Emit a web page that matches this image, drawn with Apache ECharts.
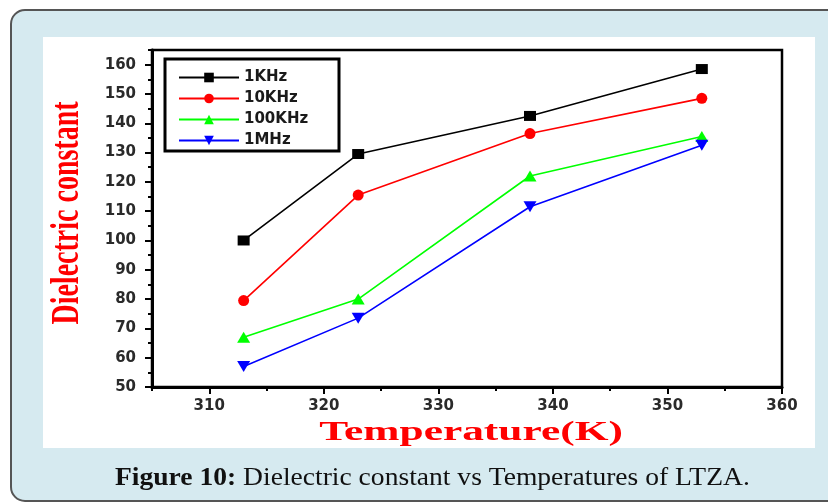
<!DOCTYPE html>
<html>
<head>
<meta charset="utf-8">
<script src="https://cdn.jsdelivr.net/npm/echarts@6/dist/echarts.min.js"></script>
<style>
html,body{margin:0;padding:0;background:#fff;}
#chart{width:828px;height:502px;}
</style>
</head>
<body>
<div id="chart"></div>
<script>
// ---- data ----
var temperatures = [313, 323, 338, 353];
var seriesNames = ['1KHz', '10KHz', '100KHz', '1MHz'];
var values1KHz   = [100, 129.5, 142.5, 158.5];
var values10KHz  = [79.5, 115.5, 136.5, 148.5];
var values100KHz = [67, 80, 122, 135.5];
var values1MHz   = [57, 73.5, 111.5, 132.5];
var xTickValues = [310, 320, 330, 340, 350, 360];
var xMinorTicks = [305, 315, 325, 335, 345, 355];
var yTickValues = [50, 60, 70, 80, 90, 100, 110, 120, 130, 140, 150, 160];
var yMinorTicks = [55, 65, 75, 85, 95, 105, 115, 125, 135, 145, 155, 165];
var xTitle = 'Temperature(K)';
var yTitle = 'Dielectric constant';
var captionBold = 'Figure 10:';
var captionText = ' Dielectric constant vs Temperatures of LTZA.';

function pairs(vals) {
  return temperatures.map(function (t, i) { return [t, vals[i]]; });
}

var chart = echarts.init(document.getElementById('chart'), null, {renderer: 'canvas'});
var labelFont = {fontFamily: 'DejaVu Sans', fontWeight: 'bold', fontSize: 15, color: '#2a2a2a'};

var option = {
  animation: false,
  backgroundColor: '#ffffff',
  grid: {left: 152, right: 46, top: 50, bottom: 115, show: true, borderColor: '#000', borderWidth: 2.5, backgroundColor: 'transparent'},
  legend: {
    orient: 'vertical', left: 178, top: 70, padding: 0,
    itemWidth: 60, itemHeight: 12, itemGap: 6,
    textStyle: {fontFamily: 'DejaVu Sans', fontWeight: 'bold', fontSize: 15, color: '#1a1a1a', padding: [0, 0, 0, 0]},
    data: seriesNames
  },
  xAxis: [{
    type: 'value', min: 305, max: 360,
    axisLine: {show: true, onZero: false, lineStyle: {color: '#000', width: 3}},
    axisTick: {show: true, inside: false, length: 7, lineStyle: {color: '#000', width: 2}, customValues: xTickValues},
    axisLabel: Object.assign({margin: 12, customValues: xTickValues}, labelFont),
    splitLine: {show: false}
  }, {
    type: 'value', min: 305, max: 360, position: 'bottom',
    axisLine: {show: false},
    axisTick: {show: true, length: 4, lineStyle: {color: '#000', width: 2}, customValues: xMinorTicks},
    axisLabel: {show: false},
    splitLine: {show: false}
  }],
  yAxis: [{
    type: 'value', min: 50, max: 165,
    axisLine: {show: true, onZero: false, lineStyle: {color: '#000', width: 3}},
    axisTick: {show: true, inside: false, length: 7, lineStyle: {color: '#000', width: 2}, customValues: yTickValues},
    axisLabel: Object.assign({margin: 16, customValues: yTickValues}, labelFont),
    splitLine: {show: false}
  }, {
    type: 'value', min: 50, max: 165, position: 'left',
    axisLine: {show: false},
    axisTick: {show: true, length: 4, lineStyle: {color: '#000', width: 2}, customValues: yMinorTicks},
    axisLabel: {show: false},
    splitLine: {show: false}
  }],
  series: [
    {name: seriesNames[0], type: 'line', data: pairs(values1KHz), symbol: 'rect', symbolSize: [12, 10],
     lineStyle: {color: '#000000', width: 1.6}, itemStyle: {color: '#000000'}},
    {name: seriesNames[1], type: 'line', data: pairs(values10KHz), symbol: 'circle', symbolSize: 11,
     lineStyle: {color: '#ff0000', width: 1.6}, itemStyle: {color: '#ff0000'}},
    {name: seriesNames[2], type: 'line', data: pairs(values100KHz), symbol: 'triangle', symbolSize: [13, 11],
     lineStyle: {color: '#00ff00', width: 1.6}, itemStyle: {color: '#00ff00'}},
    {name: seriesNames[3], type: 'line', data: pairs(values1MHz), symbol: 'triangle', symbolRotate: 180, symbolSize: [13, 11],
     lineStyle: {color: '#0000ff', width: 1.6}, itemStyle: {color: '#0000ff'}}
  ],
  graphic: [
    {type: 'rect', z: -100, silent: true, shape: {x: 11, y: 10, width: 840, height: 491, r: 14},
     style: {fill: '#d6eaf0', stroke: '#555555', lineWidth: 2}},
    {type: 'rect', z: -99, silent: true, shape: {x: 43, y: 37, width: 772, height: 411},
     style: {fill: '#ffffff'}},
    {type: 'rect', z: 10, silent: true, shape: {x: 165, y: 59, width: 174, height: 92},
     style: {fill: 'none', stroke: '#000000', lineWidth: 3}},
    {type: 'text', z: 10, x: 68, y: 213, rotation: Math.PI / 2, scaleY: 1.45,
     style: {text: yTitle, font: 'bold 28px "Liberation Serif"', fill: '#ff0000', align: 'center', verticalAlign: 'middle'}},
    {type: 'text', z: 10, x: 471, y: 433, scaleX: 1.55,
     style: {text: xTitle, font: 'bold 28px "Liberation Serif"', fill: '#ff0000', align: 'center', verticalAlign: 'middle'}},
    {type: 'text', z: 10, x: 115, y: 478, scaleX: 1.06,
     style: {
       text: '{b|' + captionBold + '}{r|' + captionText + '}',
       verticalAlign: 'middle', align: 'left',
       rich: {
         b: {fontFamily: 'Liberation Serif', fontWeight: 'bold', fontSize: 26, fill: '#111111', color: '#111111'},
         r: {fontFamily: 'Liberation Serif', fontWeight: 'normal', fontSize: 26, fill: '#111111', color: '#111111'}
       }
     }}
  ]
};
chart.setOption(option);
</script>
</body>
</html>
